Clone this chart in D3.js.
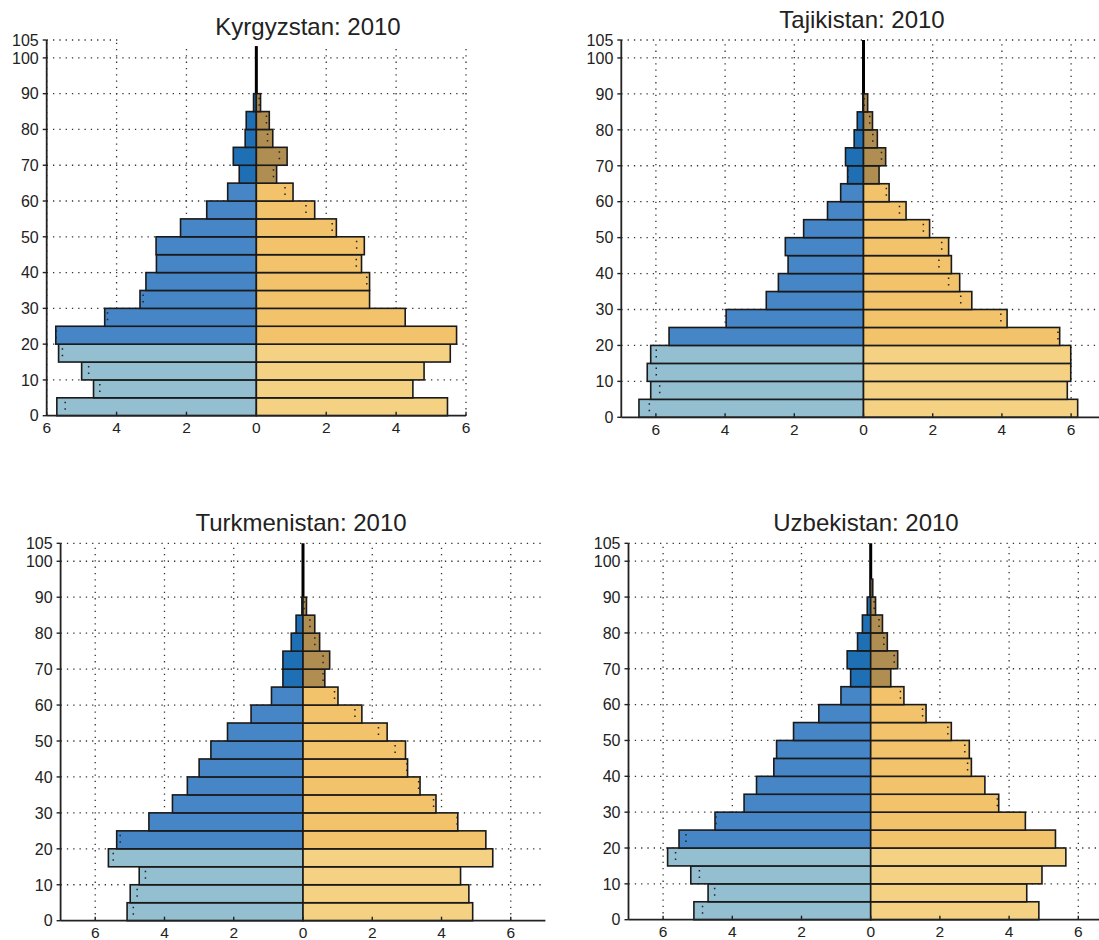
<!DOCTYPE html>
<html>
<head>
<meta charset="utf-8">
<script src="https://cdn.jsdelivr.net/npm/d3@7"></script>
<style>
  html, body { margin: 0; padding: 0; background: #fff; }
  svg { display: block; }
  text { font-family: "Liberation Sans", Arial, sans-serif; fill: #222; }
</style>
</head>
<body>
<svg id="chart" width="1099" height="940"></svg>
<script>
// ---------------- data ----------------
const countries = ["Kyrgyzstan", "Tajikistan", "Turkmenistan", "Uzbekistan"];
const year = 2010;
const ageStarts = [0, 5, 10, 15, 20, 25, 30, 35, 40, 45, 50, 55, 60, 65, 70, 75, 80, 85, 90];
const yTicks = [0, 10, 20, 30, 40, 50, 60, 70, 80, 90, 100, 105];
const xTicks = [-6, -4, -2, 0, 2, 4, 6];

// percent of population, by 5-year age group (0-4 ... 90-94)
const kyrgyzstanMale   = [5.71, 4.66, 5.00, 5.66, 5.74, 4.34, 3.33, 3.16, 2.86, 2.87, 2.17, 1.42, 0.82, 0.49, 0.66, 0.32, 0.29, 0.08, 0];
const kyrgyzstanFemale = [5.47, 4.48, 4.80, 5.55, 5.73, 4.26, 3.24, 3.24, 3.01, 3.09, 2.29, 1.67, 1.05, 0.58, 0.88, 0.47, 0.37, 0.12, 0];
const tajikistanMale   = [6.49, 6.15, 6.25, 6.15, 5.62, 3.97, 2.81, 2.46, 2.18, 2.26, 1.73, 1.04, 0.66, 0.46, 0.52, 0.27, 0.18, 0.02, 0];
const tajikistanFemale = [6.19, 5.89, 5.99, 5.99, 5.67, 4.15, 3.13, 2.78, 2.54, 2.46, 1.91, 1.23, 0.74, 0.45, 0.64, 0.40, 0.26, 0.12, 0];
const turkmenistanMale   = [5.08, 4.99, 4.73, 5.62, 5.38, 4.45, 3.77, 3.34, 3.00, 2.66, 2.18, 1.50, 0.91, 0.58, 0.58, 0.34, 0.20, 0.03, 0];
const turkmenistanFemale = [4.90, 4.79, 4.55, 5.48, 5.28, 4.47, 3.84, 3.38, 3.02, 2.96, 2.43, 1.70, 1.01, 0.63, 0.77, 0.48, 0.34, 0.10, 0];
const uzbekistanMale   = [5.11, 4.70, 5.20, 5.87, 5.54, 4.50, 3.66, 3.30, 2.80, 2.72, 2.23, 1.50, 0.86, 0.58, 0.68, 0.38, 0.24, 0.10, 0];
const uzbekistanFemale = [4.86, 4.51, 4.95, 5.64, 5.34, 4.47, 3.70, 3.30, 2.91, 2.85, 2.33, 1.60, 0.96, 0.58, 0.78, 0.48, 0.34, 0.14, 0.06];

const maleSeries = [kyrgyzstanMale, tajikistanMale, turkmenistanMale, uzbekistanMale];
const femaleSeries = [kyrgyzstanFemale, tajikistanFemale, turkmenistanFemale, uzbekistanFemale];

// ---------------- layout (pixels) ----------------
const panels = [
  { xDom: [-6, 6], xr: [46.7, 466.0], yr: [415.7, 40.0], title: [308, 35], mask: true },
  { xDom: [-7, 7], xr: [621.3, 1105.7], yr: [417.3, 40.0], title: [862, 28] },
  { xDom: [-7, 7], xr: [60.6, 545.4], yr: [920.7, 543.3], title: [301, 531] },
  { xDom: [-7, 7], xr: [628.5, 1112.9], yr: [919.7, 543.3], title: [866, 531] }
];

function fillFor(sex, age) {
  if (sex === "m") return age < 20 ? "#93bfd0" : (age < 65 ? "#4686c6" : "#1f6fb4");
  return age < 20 ? "#f5d183" : (age < 65 ? "#f2c36b" : "#b08e51");
}

const svg = d3.select("#chart");

panels.forEach((p, i) => {
  const x = d3.scaleLinear().domain(p.xDom).range(p.xr);
  const y = d3.scaleLinear().domain([0, 105]).range(p.yr);
  const g = svg.append("g");
  const male = maleSeries[i], female = femaleSeries[i];

  // grid
  const grid = g.append("g")
    .attr("stroke", "#333").attr("stroke-width", 1.3)
    .attr("stroke-dasharray", "1.3,5").attr("fill", "none");
  yTicks.filter(t => t > 0).forEach(t => {
    grid.append("line").attr("x1", x(p.xDom[0])).attr("x2", x(p.xDom[1]))
      .attr("y1", y(t)).attr("y2", y(t));
  });
  xTicks.forEach(t => {
    grid.append("line").attr("x1", x(t)).attr("x2", x(t))
      .attr("y1", y(0)).attr("y2", y(105));
  });

  // center line
  g.append("line").attr("x1", x(0)).attr("x2", x(0))
    .attr("y1", y(0)).attr("y2", y(105))
    .attr("stroke", "#000").attr("stroke-width", 3);

  const data = ageStarts.map((a, k) => ({ age: a, m: male[k], f: female[k] }));
  const bh = y(0) - y(5);

  // bars
  const bars = g.append("g").attr("stroke", "#1a1a1a").attr("stroke-width", 1.6);
  data.filter(d => d.m > 0).forEach(d => {
    bars.append("rect").attr("x", x(-d.m)).attr("y", y(d.age + 5))
      .attr("width", x(0) - x(-d.m)).attr("height", bh)
      .attr("fill", fillFor("m", d.age));
  });
  data.filter(d => d.f > 0).forEach(d => {
    bars.append("rect").attr("x", x(0)).attr("y", y(d.age + 5))
      .attr("width", x(d.f) - x(0)).attr("height", bh)
      .attr("fill", fillFor("f", d.age));
  });

  // dotted outline of the opposite sex inside each bar
  const dots = g.append("g").attr("stroke", "#222").attr("stroke-width", 1.5)
    .attr("stroke-dasharray", "1.5,5");
  data.forEach(d => {
    if (d.f > 0 && d.f < d.m) {
      dots.append("line").attr("x1", x(-d.f)).attr("x2", x(-d.f))
        .attr("y1", y(d.age + 5) + 4).attr("y2", y(d.age) - 3);
    }
    if (d.m > 0 && d.m < d.f) {
      dots.append("line").attr("x1", x(d.m)).attr("x2", x(d.m))
        .attr("y1", y(d.age + 5) + 4).attr("y2", y(d.age) - 3);
    }
  });

  if (p.mask) {
    g.append("rect").attr("x", x(-3.9)).attr("y", y(105) - 2)
      .attr("width", x(6) - x(-3.9) + 4).attr("height", y(103.3) - y(105) + 2)
      .attr("fill", "#fff");
  }

  // axes
  const ax = g.append("g").attr("stroke", "#222").attr("stroke-width", 1.8).attr("fill", "none");
  ax.append("line").attr("x1", x(p.xDom[0])).attr("x2", x(p.xDom[0]))
    .attr("y1", y(0)).attr("y2", y(105));
  ax.append("line").attr("x1", x(p.xDom[0])).attr("x2", x(p.xDom[1]))
    .attr("y1", y(0)).attr("y2", y(0));
  yTicks.forEach(t => {
    ax.append("line").attr("x1", x(p.xDom[0]) - 4).attr("x2", x(p.xDom[0]))
      .attr("y1", y(t)).attr("y2", y(t)).attr("stroke-width", 1.4);
  });
  xTicks.forEach(t => {
    ax.append("line").attr("x1", x(t)).attr("x2", x(t))
      .attr("y1", y(0)).attr("y2", y(0) - 4).attr("stroke-width", 1.4);
  });

  // tick labels
  yTicks.forEach(t => {
    g.append("text").attr("x", x(p.xDom[0]) - 8).attr("y", y(t))
      .attr("dy", "0.36em").attr("text-anchor", "end")
      .attr("font-size", 16).text(t);
  });
  xTicks.forEach(t => {
    g.append("text").attr("x", x(t)).attr("y", y(0) + 12)
      .attr("dy", "0.36em").attr("text-anchor", "middle")
      .attr("font-size", 15.5).text(Math.abs(t));
  });

  // title
  g.append("text").attr("x", p.title[0]).attr("y", p.title[1])
    .attr("text-anchor", "middle").attr("font-size", 24)
    .text(countries[i] + ": " + year);
});
</script>
</body>
</html>
